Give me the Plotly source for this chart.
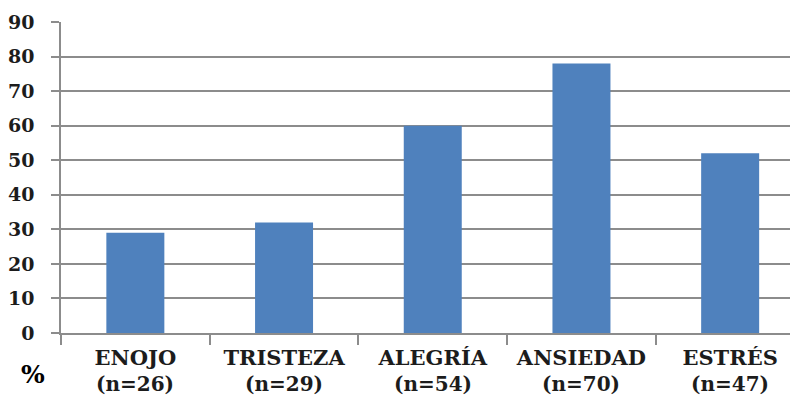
import plotly.graph_objects as go

categories = ["ENOJO", "TRISTEZA", "ALEGRÍA", "ANSIEDAD", "ESTRÉS"]
n_labels = ["(n=26)", "(n=29)", "(n=54)", "(n=70)", "(n=47)"]
values = [29, 32, 60, 78, 52]
y_ticks = [0, 10, 20, 30, 40, 50, 60, 70, 80, 90]

FONT = "DejaVu Serif"
TXT = "#1c1c1c"
GRID = "#8c8c8c"

fig = go.Figure(
    go.Bar(
        x=categories,
        y=values,
        width=0.39,
        marker=dict(color="#4F81BD", line=dict(width=0)),
    )
)

annotations = []
for c, n in zip(categories, n_labels):
    annotations.append(
        dict(
            x=c, xref="x", y=0, yref="paper",
            text="<b>" + n + "</b>",
            showarrow=False, yanchor="top", xanchor="center",
            yshift=-37,
            font=dict(family=FONT, size=20, color=TXT),
        )
    )
annotations.append(
    dict(
        x=-0.038, xref="paper", y=-0.135, yref="paper",
        text="<b>%</b>", showarrow=False,
        xanchor="center", yanchor="middle",
        font=dict(family=FONT, size=25, color="#000000"),
    )
)

fig.update_layout(
    width=798,
    height=412,
    margin=dict(l=50, r=0, t=14, b=87),
    plot_bgcolor="white",
    paper_bgcolor="white",
    showlegend=False,
    annotations=annotations,
    xaxis=dict(
        type="category",
        range=[-0.5, 4.51],
        tickmode="array",
        tickvals=categories,
        ticktext=["<b>" + c + "</b>" for c in categories],
        tickson="boundaries",
        ticks="outside",
        ticklen=10,
        tickcolor=GRID,
        tickwidth=1.5,
        showline=True,
        linecolor=GRID,
        linewidth=1.5,
        showgrid=False,
        ticklabelstandoff=5,
        tickfont=dict(family=FONT, size=21, color=TXT),
    ),
    yaxis=dict(
        range=[0, 90],
        tickmode="array",
        tickvals=y_ticks,
        ticktext=["<b>%d</b>" % v for v in y_ticks],
        ticks="outside",
        ticklen=8,
        tickcolor=GRID,
        tickwidth=1.5,
        showline=True,
        linecolor=GRID,
        linewidth=1.5,
        showgrid=True,
        gridcolor=GRID,
        gridwidth=1.5,
        zeroline=False,
        ticklabelstandoff=13,
        tickfont=dict(family=FONT, size=19, color=TXT),
    ),
)

fig.write_html("out.html")
